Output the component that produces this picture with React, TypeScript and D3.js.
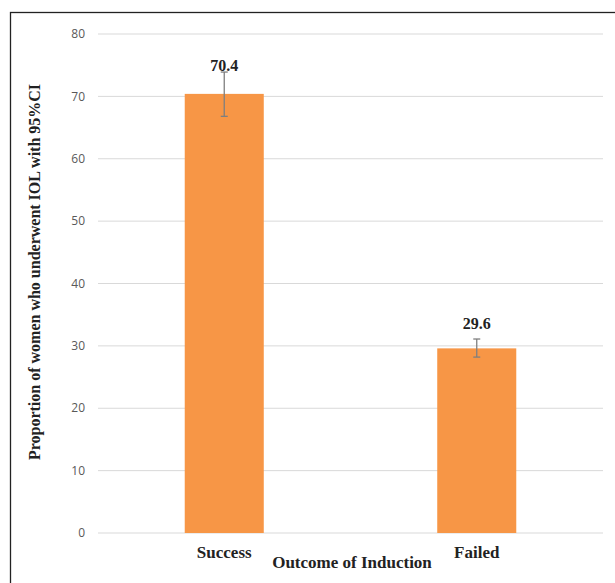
import React from 'react';
import * as d3 from 'd3';

const categories = ['Success', 'Failed'];
const proportions = [70.4, 29.6];
const ciLower = [66.8, 28.2];
const ciUpper = [73.9, 31.1];
const yTicks = [0, 10, 20, 30, 40, 50, 60, 70, 80];

const W = 615;
const H = 583;
const margin = { top: 34, right: 12, bottom: 50, left: 98 };

const App: React.FC = () => {
  const x = d3.scaleBand<string>()
    .domain(categories)
    .range([margin.left, W - margin.right])
    .paddingInner(0.687)
    .paddingOuter(0.3435);

  const y = d3.scaleLinear()
    .domain([0, 80])
    .range([H - margin.bottom, margin.top]);

  const serif = '"Liberation Serif", "Times New Roman", serif';
  const sans = '"Open Sans", "Noto Sans", sans-serif';

  return (
    <svg width={W} height={H} style={{ position: 'absolute', left: 0, top: 0, background: '#fff' }}>
      {/* outer frame */}
      <rect x={10.5} y={12.5} width={640} height={620} fill="none" stroke="#222" strokeWidth={1.3} />

      {/* gridlines + tick labels */}
      {yTicks.map(t => (
        <g key={t}>
          <line x1={margin.left} x2={W - margin.right} y1={y(t)} y2={y(t)} stroke="#d9d9d9" strokeWidth={1} />
          <text x={85} y={y(t)} dy="0.35em" textAnchor="end" fontFamily={sans} fontSize={12} fill="#595959">{t}</text>
        </g>
      ))}

      {/* bars with 95% CI */}
      {categories.map((c, i) => {
        const cx = x(c)! + x.bandwidth() / 2;
        // label sits above the bar, but never lower than just over the CI cap
        const labelY = Math.min(y(ciUpper[i]) - 1, y(proportions[i]) - 19);
        return (
          <g key={c}>
            <rect x={x(c)} y={y(proportions[i])} width={x.bandwidth()} height={y(0) - y(proportions[i])} fill="#f79646" />
            <line x1={cx} x2={cx} y1={y(ciUpper[i])} y2={y(ciLower[i])} stroke="#7f7f7f" strokeWidth={1.3} />
            <line x1={cx - 3.5} x2={cx + 3.5} y1={y(ciUpper[i])} y2={y(ciUpper[i])} stroke="#7f7f7f" strokeWidth={1.3} />
            <line x1={cx - 3.5} x2={cx + 3.5} y1={y(ciLower[i])} y2={y(ciLower[i])} stroke="#7f7f7f" strokeWidth={1.3} />
            <text x={cx} y={labelY} textAnchor="middle" fontFamily={serif} fontWeight="bold" fontSize={16} fill="#222">
              {proportions[i].toFixed(1)}
            </text>
            <text x={cx} y={558} textAnchor="middle" fontFamily={serif} fontWeight="bold" fontSize={17} fill="#222">{c}</text>
          </g>
        );
      })}

      {/* axis titles */}
      <text x={352} y={568} textAnchor="middle" fontFamily={serif} fontWeight="bold" fontSize={17} fill="#222">Outcome of Induction</text>
      <text transform={`translate(40,272) rotate(-90)`} textAnchor="middle" fontFamily={serif} fontWeight="bold" fontSize={16} fill="#222">
        Proportion of women who underwent IOL with 95%CI
      </text>
    </svg>
  );
};

export default App;
